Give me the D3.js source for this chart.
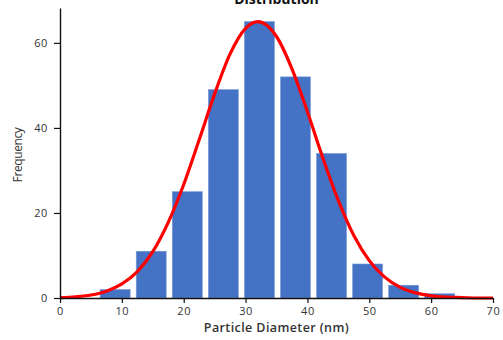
<!DOCTYPE html>
<html>
<head>
<meta charset="utf-8">
<script src="https://cdn.jsdelivr.net/npm/d3@7"></script>
<style>
  body { margin: 0; background: #fff; }
  svg { display: block; font-family: "Open Sans", sans-serif; }
</style>
</head>
<body>
<div id="chart"></div>
<script>
// histogram bins (nm) and counts
const binEdges = [6, 11.83, 17.66, 23.49, 29.32, 35.15, 40.98, 46.81, 52.64, 58.47, 64.3];
const counts = [2, 11, 25, 49, 65, 52, 34, 8, 3, 1];

// fitted curve
const curveX = [0, 2.5, 5, 7.5, 10, 12.5, 15, 17.5, 20, 22.5, 25, 27.5, 30, 32, 35, 37.5, 40, 42.5, 45, 47.5, 50, 52.5, 55, 57.5, 60, 62.5, 65, 67.5, 70];
const curveY = [0.1, 0.3, 0.7, 1.6, 3.3, 6.2, 10.9, 17.8, 26.7, 37.2, 48.0, 57.4, 63.4, 65, 61.5, 53.9, 43.8, 32.9, 22.9, 14.7, 8.8, 4.9, 2.5, 1.2, 0.5, 0.2, 0.1, 0, 0];

const xTicks = [0, 10, 20, 30, 40, 50, 60, 70];
const yTicks = [0, 20, 40, 60];

const width = 503, height = 340;
const margin = {top: 8, right: 10, bottom: 42, left: 60};

const svg = d3.select('#chart')
    .append('svg')
    .attr('width', width)
    .attr('height', height);

const x = d3.scaleLinear().domain([0, 70]).range([margin.left, width - margin.right]);
const y = d3.scaleLinear().domain([0, 68.2]).range([height - margin.bottom, margin.top]);

const bins = counts.map((c, i) => ({x0: binEdges[i], x1: binEdges[i + 1], count: c}));
const pad = 0.49;

svg.append('g')
    .selectAll('rect')
    .data(bins)
    .enter()
    .append('rect')
    .attr('x', d => x(d.x0 + pad))
    .attr('width', d => x(d.x1 - pad) - x(d.x0 + pad))
    .attr('y', d => y(d.count))
    .attr('height', d => y(0) - y(d.count))
    .attr('fill', '#4472c4')
    .attr('stroke', '#7b9bd8')
    .attr('stroke-width', 0.6);

const line = d3.line()
    .x(d => x(d[0]))
    .y(d => y(d[1]))
    .curve(d3.curveMonotoneX);

svg.append('path')
    .datum(curveX.map((v, i) => [v, curveY[i]]))
    .attr('d', line)
    .attr('fill', 'none')
    .attr('stroke', '#ff0000')
    .attr('stroke-width', 3.2);

// axes
const xAxis = svg.append('g')
    .attr('transform', `translate(0,${y(0)})`)
    .call(d3.axisBottom(x).tickValues(xTicks).tickSize(5).tickSizeOuter(0).tickPadding(4));
const yAxis = svg.append('g')
    .attr('transform', `translate(${margin.left},0)`)
    .call(d3.axisLeft(y).tickValues(yTicks).tickSize(6).tickSizeOuter(0).tickPadding(6));

[xAxis, yAxis].forEach(a => {
    a.select('.domain').attr('stroke', '#111').attr('stroke-width', 1.4);
    a.selectAll('.tick line').attr('stroke', '#111').attr('stroke-width', 1.2);
    a.selectAll('.tick text')
        .attr('fill', '#333')
        .style('font-family', '"Open Sans", sans-serif')
        .style('font-size', '11px')
        .style('letter-spacing', '0.6px');
});

svg.append('text')
    .attr('x', (x(0) + x(70)) / 2)
    .attr('y', 4)
    .attr('text-anchor', 'middle')
    .attr('font-size', 14)
    .attr('font-weight', 700)
    .attr('fill', '#111')
    .text('Distribution');

svg.append('text')
    .attr('x', (x(0) + x(70)) / 2)
    .attr('y', 332)
    .attr('text-anchor', 'middle')
    .attr('font-size', 12.5)
    .attr('font-weight', 600)
    .attr('fill', '#333')
    .style('letter-spacing', '0.4px')
    .text('Particle Diameter (nm)');

svg.append('text')
    .attr('transform', `translate(22,155) rotate(-90)`)
    .attr('text-anchor', 'middle')
    .attr('font-size', 12)
    .attr('fill', '#333')
    .style('letter-spacing', '-0.4px')
    .text('Frequency');
</script>
</body>
</html>
